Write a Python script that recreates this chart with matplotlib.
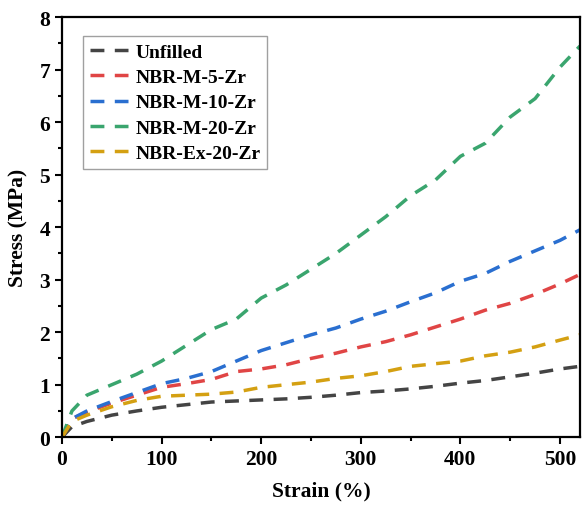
import numpy as np
import matplotlib.pyplot as plt
from matplotlib.ticker import MultipleLocator

plt.rcParams['font.family'] = ['Liberation Serif', 'DejaVu Serif']
plt.rcParams['font.weight'] = 'bold'

strain = np.array([0, 10, 25, 50, 75, 100, 125, 150, 175, 200, 225, 250, 275,
                   300, 325, 350, 375, 400, 425, 450, 475, 500, 520])

unfilled = np.array([0.0, 0.2, 0.3, 0.42, 0.5, 0.57, 0.62, 0.67, 0.69, 0.71, 0.73, 0.76, 0.8,
                     0.85, 0.88, 0.92, 0.97, 1.03, 1.08, 1.15, 1.22, 1.3, 1.35])
m5 = np.array([0.0, 0.35, 0.48, 0.65, 0.8, 0.95, 1.02, 1.1, 1.25, 1.3, 1.38, 1.5, 1.6,
               1.72, 1.82, 1.95, 2.1, 2.25, 2.42, 2.55, 2.72, 2.92, 3.1])
m10 = np.array([0.0, 0.35, 0.5, 0.68, 0.85, 1.02, 1.12, 1.25, 1.45, 1.65, 1.8, 1.95, 2.08,
                2.25, 2.4, 2.58, 2.75, 2.97, 3.12, 3.35, 3.55, 3.75, 3.95])
m20 = np.array([0.0, 0.5, 0.8, 1.0, 1.2, 1.45, 1.75, 2.05, 2.25, 2.65, 2.9, 3.2, 3.5,
                3.85, 4.2, 4.6, 4.9, 5.35, 5.6, 6.1, 6.45, 7.05, 7.45])
ex20 = np.array([0.0, 0.3, 0.42, 0.58, 0.7, 0.78, 0.8, 0.82, 0.86, 0.95, 1.0, 1.05, 1.12,
                 1.17, 1.25, 1.35, 1.4, 1.45, 1.55, 1.62, 1.72, 1.85, 1.95])

labels = ['Unfilled', 'NBR-M-5-Zr', 'NBR-M-10-Zr', 'NBR-M-20-Zr', 'NBR-Ex-20-Zr']
colors = ['#444444', '#e04545', '#2a6fd0', '#3aa56e', '#d4a012']

fig = plt.figure(figsize=(5.82, 5.06), dpi=100)
ax = fig.add_axes([0.1065, 0.134, 0.89, 0.83])

for y, lab, c in zip([unfilled, m5, m10, m20, ex20], labels, colors):
    ax.plot(strain, y, color=c, label=lab, linewidth=2.5, dashes=(4, 3))

ax.set_xlim(0, 520)
ax.set_ylim(0, 8)
ax.xaxis.set_major_locator(MultipleLocator(100))
ax.xaxis.set_minor_locator(MultipleLocator(50))
ax.yaxis.set_major_locator(MultipleLocator(1))
ax.yaxis.set_minor_locator(MultipleLocator(0.5))
ax.tick_params(which='major', direction='out', length=5, width=1.5, labelsize=15.5)
ax.tick_params(which='minor', direction='out', length=3, width=1.5)
for s in ax.spines.values():
    s.set_linewidth(1.6)

ax.set_xlabel('Strain (%)', fontsize=15.5, fontweight='bold', labelpad=8)
ax.set_ylabel('Stress (MPa)', fontsize=15.5, fontweight='bold', labelpad=8)

leg = ax.legend(loc='upper left', bbox_to_anchor=(0.04, 0.955), borderaxespad=0,
                fontsize=14, fancybox=False, edgecolor='#888888',
                handlelength=2.0, handletextpad=0.35, labelspacing=0.4,
                borderpad=0.35)
leg.get_frame().set_linewidth(1.0)

fig.savefig('out.png', dpi=100)
